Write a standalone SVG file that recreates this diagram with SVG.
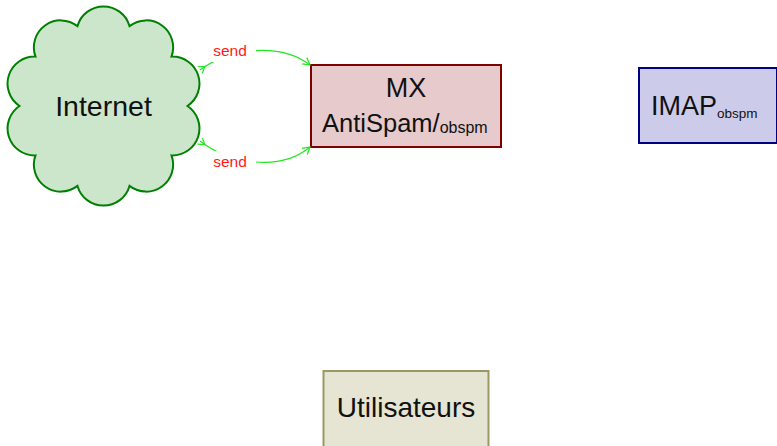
<svg xmlns="http://www.w3.org/2000/svg" width="777" height="446" viewBox="0 0 777 446">
<defs>
<style>
text{font-family:"Liberation Sans",Arial,sans-serif;fill:#111}
.lbl{font-size:15.5px;fill:#ff1a1a;text-anchor:middle}
.con{fill:none;stroke:#22e622;stroke-width:1.2}
.node{stroke-width:2}
</style>
<marker id="arr" markerUnits="userSpaceOnUse" markerWidth="14" markerHeight="14" viewBox="-10 -7 14 14" refX="0" refY="0" orient="auto">
<path d="M-7,-4 L0,0 L-7,4" fill="none" stroke="#22e622" stroke-width="1.2"/>
</marker>
<marker id="tail" markerUnits="userSpaceOnUse" markerWidth="14" markerHeight="14" viewBox="-3 -7 14 14" refX="0" refY="0" orient="auto">
<path d="M0,-4 L6,0 L0,4" fill="none" stroke="#22e622" stroke-width="1.2"/>
</marker>
</defs>
<rect width="777" height="446" fill="#ffffff"/>
<g id="internet">
<path class="node" fill="#cce6cc" stroke="#008000" d="M77.5,26.1 A27,27 0 0 1 129.5,26.1 A27,27 0 0 1 171.5,56.6 A27,27 0 0 1 187.5,106 A27,27 0 0 1 171.5,155.4 A27,27 0 0 1 129.5,185.9 A27,27 0 0 1 77.5,185.9 A27,27 0 0 1 35.5,155.4 A27,27 0 0 1 19.5,106 A27,27 0 0 1 35.5,56.6 A27,27 0 0 1 77.5,26.1 Z"/>
<text x="103.5" y="116" font-size="28.5" text-anchor="middle">Internet</text>
</g>
<g id="mx">
<rect class="node" x="311" y="65" width="190" height="82" fill="#e6cacc" stroke="#800000"/>
<text x="406" y="97" font-size="27" text-anchor="middle">MX</text>
<text x="322" y="132" font-size="25.5">AntiSpam/<tspan font-size="16" dy="1">obspm</tspan></text>
</g>
<g id="imap">
<rect class="node" x="639" y="68" width="138" height="75" fill="#ccccea" stroke="#000080"/>
<text x="651" y="115" font-size="27">IMAP<tspan font-size="13.5" dy="3">obspm</tspan></text>
</g>
<g id="utilisateurs">
<rect class="node" x="323.5" y="371" width="165" height="82" fill="#e6e4d2" stroke="#999966"/>
<text x="406" y="417" font-size="28" text-anchor="middle">Utilisateurs</text>
</g>
<g id="connectors">
<path class="con" d="M200,70 C230,48 280,42 310,65" marker-start="url(#tail)" marker-end="url(#arr)"/>
<rect x="211" y="40" width="45" height="22" fill="#ffffff"/>
<text class="lbl" x="230" y="56">send</text>
<path class="con" d="M200,141 C230,164 280,172 310,147" marker-start="url(#tail)" marker-end="url(#arr)"/>
<rect x="211" y="151" width="45" height="22" fill="#ffffff"/>
<text class="lbl" x="230" y="167">send</text>
</g>
</svg>
